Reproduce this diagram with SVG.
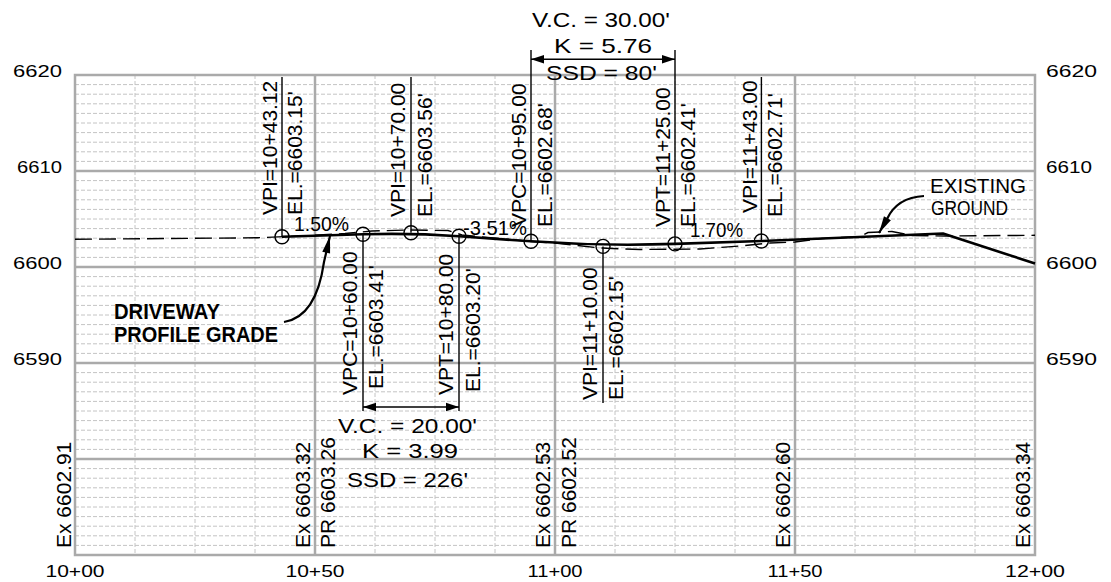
<svg xmlns="http://www.w3.org/2000/svg" width="1111" height="582" viewBox="0 0 1111 582">
<style>
.minor{fill:none;stroke:#c4c4c4;stroke-width:1;stroke-dasharray:4 2}
.major{fill:none;stroke:#aaaaaa;stroke-width:2.5}
.t{font-family:"Liberation Sans",Arial,sans-serif;font-size:21px;fill:#000}
.ax{font-family:"Liberation Sans",Arial,sans-serif;font-size:17px;fill:#000}
.b{font-family:"Liberation Sans",Arial,sans-serif;font-size:22px;font-weight:bold;fill:#000}
.ln{fill:none;stroke:#000;stroke-width:1.4}
.pr{fill:none;stroke:#000;stroke-width:2.6;stroke-linejoin:round}
.eg{fill:none;stroke:#000;stroke-width:1.4;stroke-dasharray:17 7}
.ld{fill:none;stroke:#000;stroke-width:2.2}
.c{fill:none;stroke:#000;stroke-width:1.4}
</style>
<defs>
<marker id="dim" markerUnits="userSpaceOnUse" viewBox="-14 -5 15 10" refX="0" refY="0" markerWidth="15" markerHeight="10" orient="auto-start-reverse">
<path d="M0,0 L-13,-4.2 L-13,4.2 Z" fill="#000"/>
</marker>
<marker id="ldr" markerUnits="userSpaceOnUse" viewBox="-18 -5 19 10" refX="0" refY="0" markerWidth="19" markerHeight="10" orient="auto">
<path d="M0,0 L-17,-4 L-17,4 Z" fill="#000"/>
</marker>
</defs>
<rect width="1111" height="582" fill="#fff"/>
<g id="grid">
<path class="minor" d="M75,84.6H1035M75,94.2H1035M75,103.8H1035M75,113.4H1035M75,123H1035M75,132.6H1035M75,142.2H1035M75,151.8H1035M75,161.4H1035M75,180.6H1035M75,190.2H1035M75,199.8H1035M75,209.4H1035M75,219H1035M75,228.6H1035M75,238.2H1035M75,247.8H1035M75,257.4H1035M75,276.6H1035M75,286.2H1035M75,295.8H1035M75,305.4H1035M75,315H1035M75,324.6H1035M75,334.2H1035M75,343.8H1035M75,353.4H1035M75,372.6H1035M75,382.2H1035M75,391.8H1035M75,401.4H1035M75,411H1035M75,420.6H1035M75,430.2H1035M75,439.8H1035M75,449.4H1035M75,468.6H1035M75,478.2H1035M75,487.8H1035M75,497.4H1035M75,507H1035M75,516.6H1035M75,526.2H1035M75,535.8H1035M75,545.4H1035"/>
<path class="minor" d="M135,75V555M195,75V555M255,75V555M375,75V555M435,75V555M495,75V555M615,75V555M675,75V555M735,75V555M855,75V555M915,75V555M975,75V555"/>
<path class="major" d="M75,171H1035M75,267H1035M75,363H1035M75,459H1035M315,75V555M555,75V555M795,75V555"/>
<rect class="major" x="75" y="75" width="960" height="480"/>
</g>
<g id="axis-labels">
<text class="ax" x="62" y="77" text-anchor="end" textLength="49" lengthAdjust="spacingAndGlyphs">6620</text>
<text class="ax" x="62" y="173" text-anchor="end" textLength="45" lengthAdjust="spacingAndGlyphs">6610</text>
<text class="ax" x="62" y="269" text-anchor="end" textLength="49" lengthAdjust="spacingAndGlyphs">6600</text>
<text class="ax" x="62" y="365" text-anchor="end" textLength="49" lengthAdjust="spacingAndGlyphs">6590</text>
<text class="ax" x="1046" y="77" textLength="51" lengthAdjust="spacingAndGlyphs">6620</text>
<text class="ax" x="1046" y="173" textLength="46" lengthAdjust="spacingAndGlyphs">6610</text>
<text class="ax" x="1046" y="269" textLength="51" lengthAdjust="spacingAndGlyphs">6600</text>
<text class="ax" x="1046" y="365" textLength="51" lengthAdjust="spacingAndGlyphs">6590</text>
<text class="ax" x="75" y="577" text-anchor="middle" textLength="59" lengthAdjust="spacingAndGlyphs">10+00</text>
<text class="ax" x="315" y="577" text-anchor="middle" textLength="59" lengthAdjust="spacingAndGlyphs">10+50</text>
<text class="ax" x="555" y="577" text-anchor="middle" textLength="55" lengthAdjust="spacingAndGlyphs">11+00</text>
<text class="ax" x="795" y="577" text-anchor="middle" textLength="55" lengthAdjust="spacingAndGlyphs">11+50</text>
<text class="ax" x="1035" y="577" text-anchor="middle" textLength="60" lengthAdjust="spacingAndGlyphs">12+00</text>
</g>
<g id="connectors">
<path id="existing-ground" class="eg" d="M75,239.3 L257,237.8 L315,235.3 L345,233.5 L372,231 L410,230 L448,230.5 L462,235 L531,241.5 L555,243 L600,248 L640,249.5 L700,249 L740,246 L770,243 L795,242 L822,238.5 L860,236.5 L868,232.5 L880,232 L892,231.5 L912,235.5 L945,236 L1035,235.3"/>
<path id="profile-grade" class="pr" d="M282,236.8 L363,234.3 Q411,232.8 459,236.3 L531,241.3 Q603,246.4 675,243.9 L761.4,241 L943,233.5 L1035,263.5"/>
<path class="ln" d="M282,77V236.8M411,77V232.8M761.4,77V241M531,50V241.3M675,50V243.9M363,234.3V411M459,236.3V411M603,246.4V403"/>
<path class="ln" d="M531,59.3H675" marker-start="url(#dim)" marker-end="url(#dim)"/>
<path class="ln" d="M363,407H459" marker-start="url(#dim)" marker-end="url(#dim)"/>
<path class="ld" d="M284,322 C310,318 320,290 324,262 L330,236" marker-end="url(#ldr)"/>
<path class="ld" d="M924,196 C905,197 893,206 887,219 L879,233" marker-end="url(#ldr)"/>
</g>
<g id="points">
<circle class="c" cx="282" cy="236.8" r="7"/>
<circle class="c" cx="363" cy="234.3" r="7"/>
<circle class="c" cx="411" cy="232.8" r="7"/>
<circle class="c" cx="459" cy="236.3" r="7"/>
<circle class="c" cx="531" cy="241.3" r="7"/>
<circle class="c" cx="603" cy="246.4" r="7"/>
<circle class="c" cx="675" cy="243.9" r="7"/>
<circle class="c" cx="761.4" cy="241" r="7"/>
</g>
<g id="vpi-1043">
<text class="t" transform="translate(277,215) rotate(-90)">VPI=10+43.12</text>
<text class="t" transform="translate(302,215) rotate(-90)">EL.=6603.15'</text>
</g>
<g id="vpc-1060">
<text class="t" transform="translate(357,395) rotate(-90)">VPC=10+60.00</text>
<text class="t" transform="translate(383,389) rotate(-90)">EL.=6603.41'</text>
</g>
<g id="vpi-1070">
<text class="t" transform="translate(405,217) rotate(-90)">VPI=10+70.00</text>
<text class="t" transform="translate(432,217) rotate(-90)">EL.=6603.56'</text>
</g>
<g id="vpt-1080">
<text class="t" transform="translate(453,395) rotate(-90)">VPT=10+80.00</text>
<text class="t" transform="translate(480,392) rotate(-90)">EL.=6603.20'</text>
</g>
<g id="vpc-1095">
<text class="t" transform="translate(526,227) rotate(-90)">VPC=10+95.00</text>
<text class="t" transform="translate(552,227) rotate(-90)">EL.=6602.68'</text>
</g>
<g id="vpi-1110">
<text class="t" transform="translate(597,400) rotate(-90)">VPI=11+10.00</text>
<text class="t" transform="translate(623,400) rotate(-90)">EL.=6602.15'</text>
</g>
<g id="vpt-1125">
<text class="t" transform="translate(670,227) rotate(-90)">VPT=11+25.00</text>
<text class="t" transform="translate(695,227) rotate(-90)">EL.=6602.41'</text>
</g>
<g id="vpi-1143">
<text class="t" transform="translate(757,213) rotate(-90)">VPI=11+43.00</text>
<text class="t" transform="translate(782,217) rotate(-90)">EL.=6602.71'</text>
</g>
<g id="grades">
<text class="t" x="294" y="231" textLength="55" lengthAdjust="spacingAndGlyphs">1.50%</text>
<text class="t" x="463" y="235" textLength="64" lengthAdjust="spacingAndGlyphs">-3.51%</text>
<text class="t" x="690" y="237" textLength="53" lengthAdjust="spacingAndGlyphs">1.70%</text>
</g>
<g id="curve-crest">
<text class="t" x="338" y="433" textLength="139" lengthAdjust="spacingAndGlyphs">V.C. = 20.00'</text>
<text class="t" x="362" y="458" textLength="96" lengthAdjust="spacingAndGlyphs">K = 3.99</text>
<text class="t" x="347" y="487" textLength="121" lengthAdjust="spacingAndGlyphs">SSD = 226'</text>
</g>
<g id="curve-sag">
<text class="t" x="532" y="27" textLength="138" lengthAdjust="spacingAndGlyphs">V.C. = 30.00'</text>
<text class="t" x="554" y="53" textLength="98" lengthAdjust="spacingAndGlyphs">K = 5.76</text>
<text class="t" x="546" y="80" textLength="111" lengthAdjust="spacingAndGlyphs">SSD = 80'</text>
</g>
<g id="driveway-label">
<text class="b" x="114" y="319" textLength="106" lengthAdjust="spacingAndGlyphs">DRIVEWAY</text>
<text class="b" x="114" y="342" textLength="164" lengthAdjust="spacingAndGlyphs">PROFILE GRADE</text>
</g>
<g id="existing-label">
<text class="t" x="930" y="193" textLength="96" lengthAdjust="spacingAndGlyphs">EXISTING</text>
<text class="t" x="931" y="215" textLength="77" lengthAdjust="spacingAndGlyphs">GROUND</text>
</g>
<g id="station-elevations">
<text class="t" transform="translate(71,548) rotate(-90)">Ex 6602.91</text>
<text class="t" transform="translate(310,548) rotate(-90)">Ex 6603.32</text>
<text class="t" transform="translate(335,548) rotate(-90)">PR 6603.26</text>
<text class="t" transform="translate(550,548) rotate(-90)">Ex 6602.53</text>
<text class="t" transform="translate(576,548) rotate(-90)">PR 6602.52</text>
<text class="t" transform="translate(790,548) rotate(-90)">Ex 6602.60</text>
<text class="t" transform="translate(1030,548) rotate(-90)">Ex 6603.34</text>
</g>
</svg>
